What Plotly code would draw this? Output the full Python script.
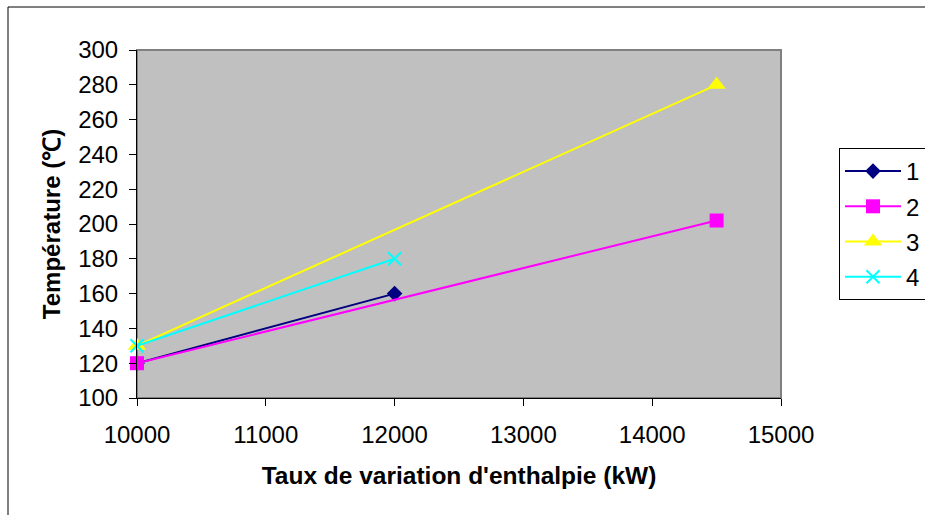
import plotly.graph_objects as go

# Data
series_names = ["1", "2", "3", "4"]
x1 = [10000, 12000]
y1 = [120, 160]
x2 = [10000, 14500]
y2 = [120, 202]
x3 = [10000, 14500]
y3 = [130, 280]
x4 = [10000, 12000]
y4 = [130, 180]

colors = ["#000080", "#FF00FF", "#FFFF00", "#00FFFF"]
symbols = ["diamond", "square", "triangle-up", "x-thin"]
sizes = [12, 14, 16, 13]

xs = [x1, x2, x3, x4]
ys = [y1, y2, y3, y4]

FONT = "Liberation Sans, Arial, sans-serif"

fig = go.Figure()
for i in range(4):
    marker = dict(symbol=symbols[i], size=sizes[i], color=colors[i])
    if symbols[i] == "x-thin":
        marker["line"] = dict(color=colors[i], width=2)
    fig.add_trace(go.Scatter(
        x=xs[i], y=ys[i], name=series_names[i], mode="lines+markers",
        line=dict(color=colors[i], width=2), marker=marker,
        legendgroup=series_names[i], cliponaxis=False,
    ))

W, H = 925, 515
L, R, T, B = 137, 781, 50, 398
pw, ph = R - L, B - T

def px(x):
    return (x - L) / pw

def py(y):
    return (B - y) / ph

fig.update_layout(
    width=W, height=H,
    margin=dict(l=L, r=W - R, t=T, b=H - B, autoexpand=False),
    paper_bgcolor="white",
    plot_bgcolor="#C0C0C0",
    font=dict(family=FONT, size=24, color="black"),
    showlegend=True,
    legend=dict(
        x=px(839), y=py(148), xanchor="left", yanchor="top",
        bgcolor="white", bordercolor="black", borderwidth=1,
        font=dict(family=FONT, size=24, color="black"),
        traceorder="grouped", tracegroupgap=1, itemwidth=56,
    ),
    xaxis=dict(
        range=[10000, 15000], dtick=1000, tick0=10000, tickformat="d",
        showgrid=False, zeroline=False,
        showline=True, linecolor="black", linewidth=1,
        ticks="outside", ticklen=7, tickcolor="black", tickwidth=1,
        ticklabelstandoff=8,
        tickfont=dict(family=FONT, size=24, color="black"),
        title=dict(text="<b>Taux de variation d'enthalpie (kW)</b>",
                   font=dict(family=FONT, size=24.5, color="black"), standoff=20),
    ),
    yaxis=dict(
        range=[100, 300], dtick=20, tick0=100,
        showgrid=False, zeroline=False,
        showline=True, linecolor="black", linewidth=1,
        ticks="outside", ticklen=7, tickcolor="black", tickwidth=1,
        ticklabelstandoff=6,
        tickfont=dict(family=FONT, size=24, color="black"),
        title=dict(text="<b>Température (℃)</b>",
                   font=dict(family=FONT, size=24, color="black"), standoff=10),
    ),
    shapes=[
        # plot area border (grey)
        dict(type="rect", xref="paper", yref="paper", x0=0, x1=1, y0=0, y1=1,
             line=dict(color="#808080", width=2), fillcolor="rgba(0,0,0,0)", layer="below"),
        # outer chart border
        dict(type="rect", xref="paper", yref="paper",
             x0=px(8), x1=px(935), y0=py(525), y1=py(7),
             line=dict(color="black", width=1), fillcolor="rgba(0,0,0,0)"),
    ],
)

fig.write_html("out.html")
